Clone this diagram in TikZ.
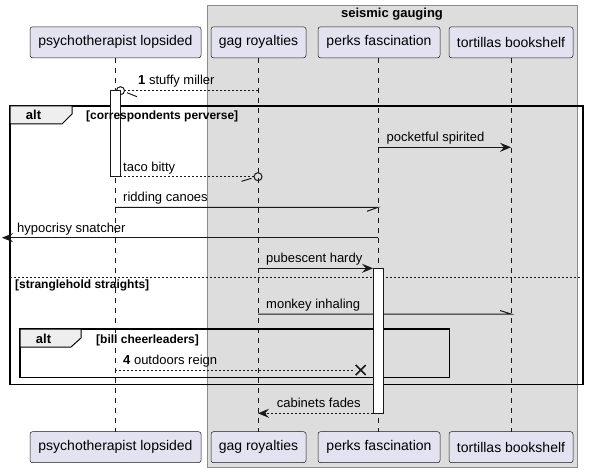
\documentclass[tikz,border=0pt]{standalone}
\usepackage{fontspec}
\setmainfont{Liberation Sans}
\usetikzlibrary{arrows.meta}
\definecolor{partfill}{HTML}{E2E2F0}
\definecolor{ink}{HTML}{181818}
\definecolor{boxfill}{HTML}{DDDDDD}
\definecolor{boxline}{HTML}{8C8C8C}
\definecolor{tabfill}{HTML}{EEEEEE}
\newcommand{\msgfont}{\fontsize{13}{15}\selectfont}
\newcommand{\guardfont}{\fontsize{12}{14}\selectfont}
\newcommand{\partfont}{\fontsize{14}{16}\selectfont}

\begin{document}
\begin{tikzpicture}[x=1pt,y=-1pt,>={Stealth[length=11pt,width=9pt,inset=4pt]},
    partbox/.style={draw=ink,line width=0.5pt,fill=partfill,rounded corners=2.5pt,minimum height=31pt,inner sep=0pt,font=\partfont},
    lifeline/.style={draw=ink,line width=0.5pt,dash pattern=on 5pt off 5pt},
    msgline/.style={draw=ink,line width=1pt},
    replyline/.style={msgline,dash pattern=on 2pt off 2pt},
    msgtext/.style={anchor=base west,inner sep=0pt,font=\msgfont},
    guardtext/.style={anchor=base west,inner sep=0pt,font=\guardfont\bfseries},
    actbar/.style={draw=ink,line width=1pt,fill=white},
    altframe/.style={draw=black,line width=1.5pt},
    alttab/.style={draw=black,line width=1pt,fill=tabfill}]
    \useasboundingbox (0,0) rectangle (589,473);

    % box round the three right participants
    \draw[fill=boxfill,draw=boxline,line width=0.5pt] (207,5.5) rectangle (577.5,467);
    \node[anchor=base,inner sep=0pt,font=\msgfont\bfseries] (grp) at (392,17.3) {seismic gauging};

    % participants
    \node[partbox,minimum width=171pt] (p1t) at (115.5,42.3) {psychotherapist lopsided};
    \node[partbox,minimum width=95pt] (p2t) at (258.5,42.3) {gag royalties};
    \node[partbox,minimum width=122pt] (p3t) at (379,42.3) {perks fascination};
    \node[partbox,minimum width=124pt] (p4t) at (511,42.3) {tortillas bookshelf};
    \node[partbox,minimum width=171pt] (p1b) at (115.5,447.2) {psychotherapist lopsided};
    \node[partbox,minimum width=95pt] (p2b) at (258.5,447.2) {gag royalties};
    \node[partbox,minimum width=122pt] (p3b) at (379,447.2) {perks fascination};
    \node[partbox,minimum width=124pt] (p4b) at (511,447.2) {tortillas bookshelf};

    \draw[lifeline] (115,58) -- (115,431.7);
    \draw[lifeline] (258,58) -- (258,431.7);
    \draw[lifeline] (378,58) -- (378,431.7);
    \draw[lifeline] (511,58) -- (511,431.7);

    % message ends
    \coordinate (m1a) at (258,90.7);   \coordinate (m1b) at (120.5,90.7);
    \coordinate (m2a) at (378,147.3);  \coordinate (m2b) at (511,147.3);
    \coordinate (m3a) at (120,176.7);  \coordinate (m3b) at (258,176.7);
    \coordinate (m4a) at (115,207.3);  \coordinate (m4b) at (378,207.3);
    \coordinate (m5a) at (378,237.7);  \coordinate (m5b) at (2,237.7);
    \coordinate (m6a) at (258,268.3);  \coordinate (m6b) at (373,268.3);
    \coordinate (m7a) at (258,314);    \coordinate (m7b) at (511,314);
    \coordinate (m8a) at (115,370);    \coordinate (m8b) at (355,370);
    \coordinate (m9a) at (373,413.3);  \coordinate (m9b) at (258,413.3);

    % alt frames
    \draw[altframe] (10,106) rectangle (583,384.5);
    \draw[replyline] (10,277.3) -- (583,277.3);
    \draw[altframe] (20,329) rectangle (449.3,377.7);

    % messages
    \draw[replyline,shorten >=4pt] (m1a) -- (m1b);
    \draw[msgline] (m1b) circle (4);
    \draw[msgline] (m1b) ++(6.5,2) -- ++(10,4);
    \draw[msgline,->] (m2a) -- (m2b);
    \draw[replyline,shorten >=4pt] (m3a) -- (m3b);
    \draw[msgline] (m3b) circle (4);
    \draw[msgline] (m3b) ++(-6.5,1.6) -- ++(-10,3);
    \draw[msgline] (m4a) -- (m4b) -- ++(-11,4);
    \draw[msgline,->] (m5a) -- (m5b);
    \draw[msgline,->] (m6a) -- (m6b);
    \draw[msgline] (m7a) -- (m7b) -- ++(-11,-3.5);
    \draw[replyline] (m8a) -- (m8b);
    \draw[ink,line width=1.5pt] (m8b) ++(0.7,-5) -- ++(10,10) ++(0,-10) -- ++(-10,10);
    \draw[replyline,->] (m9a) -- (m9b);

    % activations
    \draw[actbar] (110,90.7) rectangle (120,177);
    \draw[actbar] (373,268.3) rectangle (383,413.3);

    % tabs
    \draw[alttab] (10,106) -- (72,106) -- (72,114) -- (62,124) -- (10,124) -- cycle;
    \draw[alttab] (20,329) -- (81,329) -- (81,338) -- (71,347) -- (20,347) -- cycle;
    \node[anchor=base,inner sep=0pt,font=\msgfont\bfseries] (t1) at (33.5,120) {alt};
    \node[anchor=base,inner sep=0pt,font=\msgfont\bfseries] (t2) at (43.5,343.3) {alt};
    \node[guardtext] (g1) at (86,120) {[correspondents perverse]};
    \node[guardtext] (g2) at (15,288.5) {[stranglehold straights]};
    \node[guardtext] (g3) at (96,343.3) {[bill cheerleaders]};

    % message texts
    \node[msgtext] (l1) at (138,85) {\textbf{1} stuffy miller};
    \node[msgtext] (l2) at (386.5,141.8) {pocketful spirited};
    \node[msgtext] (l3) at (123,171.5) {taco bitty};
    \node[msgtext] (l4) at (123,201.8) {ridding canoes};
    \node[msgtext] (l5) at (17,232.2) {hypocrisy snatcher};
    \node[msgtext] (l6) at (266,262.8) {pubescent hardy};
    \node[msgtext] (l7) at (266,308.5) {monkey inhaling};
    \node[msgtext] (l8) at (123,364.5) {\textbf{4} outdoors reign};
    \node[msgtext] (l9) at (276.7,407.8) {cabinets fades};
\end{tikzpicture}
\end{document}
